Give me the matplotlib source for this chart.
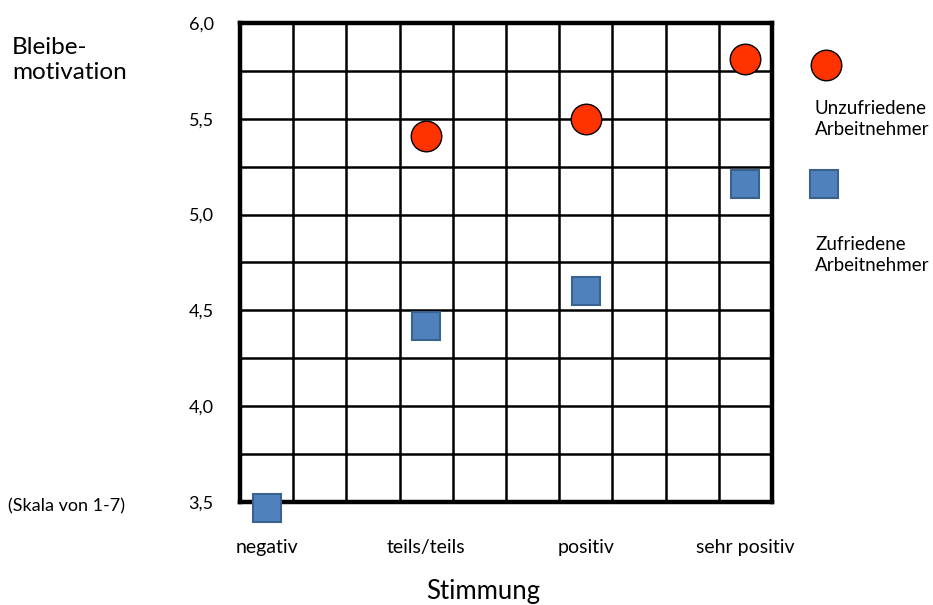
import matplotlib
matplotlib.use("Agg")
import matplotlib.pyplot as plt
from matplotlib.lines import Line2D

plt.rcParams['font.family'] = ['Lato', 'DejaVu Sans']

categories = ["negativ", "teils/teils", "positiv", "sehr positiv"]
cat_pos = [0.5, 3.5, 6.5, 9.5]
unzufrieden_cats = ["teils/teils", "positiv", "sehr positiv"]
unzufrieden_vals = [5.41, 5.50, 5.81]
zufrieden_cats = ["negativ", "teils/teils", "positiv", "sehr positiv"]
zufrieden_vals = [3.47, 4.42, 4.60, 5.16]
y_ticks = [3.5, 4.0, 4.5, 5.0, 5.5, 6.0]
y_labels = ["3,5", "4,0", "4,5", "5,0", "5,5", "6,0"]

red = "#FF3300"
blue = "#4F81BD"
blue_edge = "#3A628F"

fig = plt.figure(figsize=(9.33, 6.05), dpi=100)
ax = fig.add_axes([240/933, 103/605, 532/933, 479/605])
ax.set_xlim(0, 10)
ax.set_ylim(3.5, 6.0)

# grid
ax.set_xticks(range(0, 11), minor=True)
ax.set_yticks([3.5 + 0.25*i for i in range(11)], minor=True)
ax.grid(which='minor', color='black', linewidth=1.8)
ax.grid(which='major', axis='y', color='black', linewidth=1.8)
ax.tick_params(which='both', length=0)
ax.set_axisbelow(True)

ax.set_xticks(cat_pos)
ax.set_xticklabels(categories, fontsize=14)
ax.tick_params(axis='x', which='major', pad=27)
ax.set_yticks(y_ticks)
ax.set_yticklabels(y_labels, fontsize=13)
ax.tick_params(axis='y', which='major', pad=19)

for s in ax.spines.values():
    s.set_linewidth(3.2)
    s.set_zorder(2.5)

pos = dict(zip(categories, cat_pos))
ax.plot([pos[c] for c in unzufrieden_cats], unzufrieden_vals, 'o', ms=22,
        mfc=red, mec='black', mew=1.0, clip_on=False, zorder=5, ls='none')
ax.plot([pos[c] for c in zufrieden_cats], zufrieden_vals, 's', ms=20,
        mfc=blue, mec=blue_edge, mew=1.5, clip_on=False, zorder=5, ls='none')

# legend
fig.add_artist(Line2D([826/933], [1 - 65/605], marker='o', ms=22, mfc=red,
                      mec='black', mew=1.0, ls='none', transform=fig.transFigure))
fig.add_artist(Line2D([824/933], [1 - 184/605], marker='s', ms=20, mfc=blue,
                      mec=blue_edge, mew=1.5, ls='none', transform=fig.transFigure))
fig.text(815/933, 1 - 119/605, "Unzufriedene\nArbeitnehmer", fontsize=13.5,
         ha='left', va='center', linespacing=1.3)
fig.text(815/933, 1 - 255/605, "Zufriedene\nArbeitnehmer", fontsize=13.5,
         ha='left', va='center', linespacing=1.3)

fig.text(12/933, 1 - 60/605, "Bleibe-\nmotivation", fontsize=17.5,
         ha='left', va='center', linespacing=1.25)
fig.text(483/933, 1 - 592/605, "Stimmung", fontsize=18.5, ha='center', va='center')
fig.text(8/933, 1 - 506/605, "(Skala von 1-7)", fontsize=13, ha='left', va='center')

fig.savefig("out.png", dpi=100)
